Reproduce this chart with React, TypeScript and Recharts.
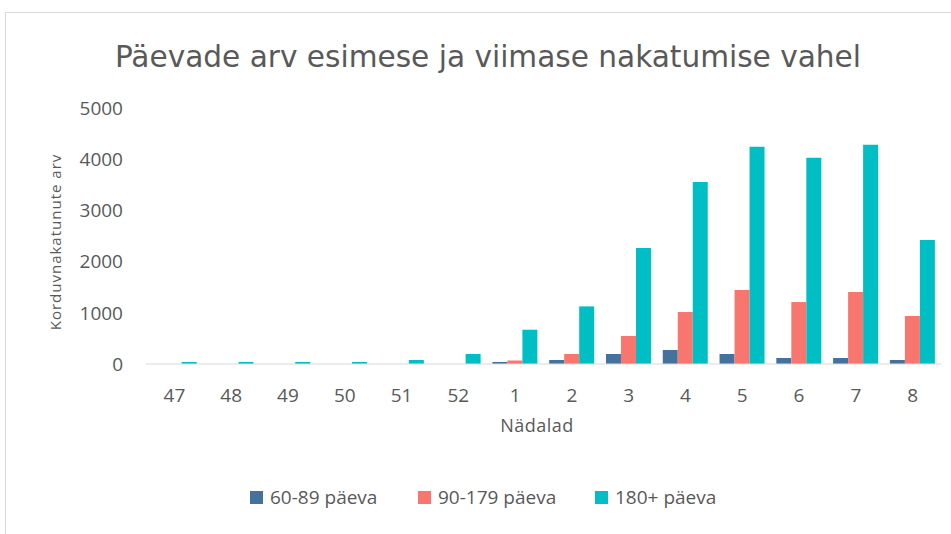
import { BarChart, Bar, XAxis, YAxis } from "recharts";

const weeks = ["47", "48", "49", "50", "51", "52", "1", "2", "3", "4", "5", "6", "7", "8"];
const d60to89 = [0, 0, 0, 0, 0, 0, 40, 78, 195, 273, 195, 117, 117, 78];
const d90to179 = [0, 0, 0, 0, 0, 0, 70, 195, 547, 1015, 1445, 1210, 1406, 937];
const d180plus = [40, 40, 40, 40, 78, 195, 670, 1125, 2265, 3555, 4244, 4030, 4283, 2420];
const yTicks = [0, 1000, 2000, 3000, 4000, 5000];

const SERIES = [
  { key: "a", name: "60-89 päeva", color: "#44729c", values: d60to89, legendX: 250 },
  { key: "b", name: "90-179 päeva", color: "#f8766d", values: d90to179, legendX: 418 },
  { key: "c", name: "180+ päeva", color: "#00bfc4", values: d180plus, legendX: 595 },
];

const data = weeks.map((w, i) => ({
  week: w,
  a: d60to89[i],
  b: d90to179[i],
  c: d180plus[i],
}));

const FONT = "'Open Sans', 'DejaVu Sans', sans-serif";
const TEXT = "#595959";

export default function App() {
  return (
    <div style={{ position: "absolute", left: 0, top: 0, width: 951, height: 534, background: "#fff", overflow: "hidden" }}>
      <div style={{ position: "absolute", left: 5, top: 12, width: 960, height: 540, border: "1px solid #d9d9d9", boxSizing: "border-box" }} />
      <svg width={951} height={100} style={{ position: "absolute", left: 0, top: 0 }}>
        <text x={488} y={67} textAnchor="middle" fontFamily="'Liberation Sans Narrow', 'DejaVu Sans Condensed', sans-serif" fontSize={31} fill={TEXT} textLength={746} lengthAdjust="spacingAndGlyphs">
          Päevade arv esimese ja viimase nakatumise vahel
        </text>
      </svg>
      <div style={{ position: "absolute", left: 0, top: 0 }}>
        <BarChart width={951} height={534} data={data} margin={{ top: 108, right: 10, bottom: 140, left: 0 }} barCategoryGap="10%" barGap={0}>
          <XAxis dataKey="week" axisLine={{ stroke: "#d9d9d9" }} tickLine={false} tickSize={0} tickMargin={25} tick={{ fill: TEXT, fontSize: 19, fontFamily: FONT }} interval={0} />
          <YAxis width={146} domain={[0, 5000]} ticks={yTicks} axisLine={false} tickLine={false} tickSize={0} tickMargin={23} tick={{ fill: TEXT, fontSize: 19, fontFamily: FONT }} />
          {SERIES.map((s) => (
            <Bar key={s.key} dataKey={s.key} name={s.name} fill={s.color} isAnimationActive={false} />
          ))}
        </BarChart>
      </div>
      <div style={{ position: "absolute", left: 55, top: 242, transform: "translate(-50%, -50%) rotate(-90deg)", whiteSpace: "nowrap", fontFamily: FONT, fontSize: 15, color: TEXT, letterSpacing: 1 }}>
        Korduvnakatunute arv
      </div>
      <div style={{ position: "absolute", left: 537, top: 425, transform: "translate(-50%, -50%)", whiteSpace: "nowrap", fontFamily: FONT, fontSize: 18, color: TEXT, letterSpacing: 0.5 }}>
        Nädalad
      </div>
      {SERIES.map((s) => (
        <div key={s.key} style={{ position: "absolute", left: s.legendX, top: 497, transform: "translateY(-50%)", display: "flex", alignItems: "center", fontFamily: FONT, fontSize: 19, color: TEXT, whiteSpace: "nowrap" }}>
          <span style={{ display: "inline-block", width: 13, height: 13, background: s.color, marginRight: 7 }} />
          <span>{s.name}</span>
        </div>
      ))}
    </div>
  );
}
